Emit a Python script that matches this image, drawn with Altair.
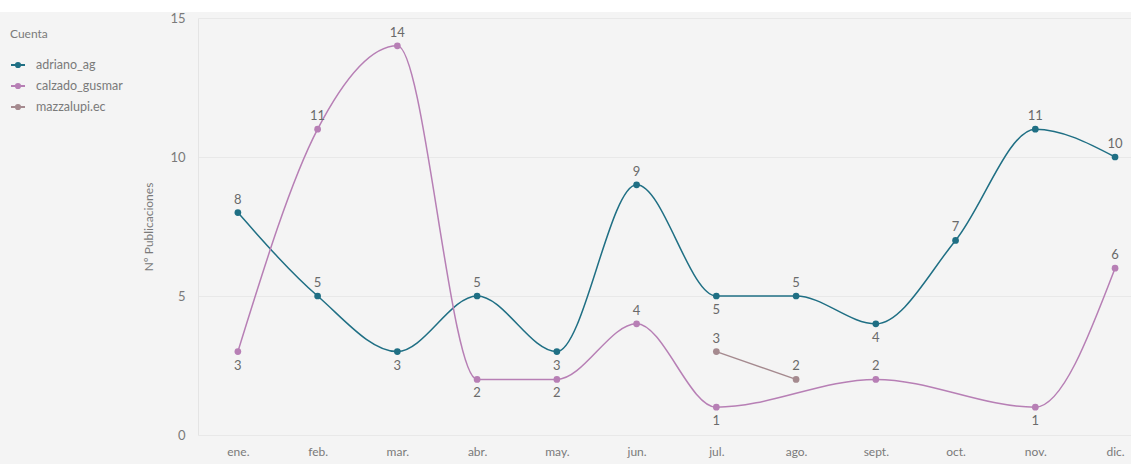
import altair as alt
import pandas as pd

months = ["ene.", "feb.", "mar.", "abr.", "may.", "jun.", "jul.", "ago.", "sept.", "oct.", "nov.", "dic."]
series_names = ["adriano_ag", "calzado_gusmar", "mazzalupi.ec"]
colors = ["#1f6f84", "#b77fb5", "#a58a8f"]

adriano_months = [0, 1, 2, 3, 4, 5, 6, 7, 8, 9, 10, 11]
adriano_values = [8, 5, 3, 5, 3, 9, 5, 5, 4, 7, 11, 10]
calzado_months = [0, 1, 2, 3, 4, 5, 6, 8, 10, 11]
calzado_values = [3, 11, 14, 2, 2, 4, 1, 2, 1, 6]
mazza_months = [6, 7]
mazza_values = [3, 2]

rows = []
for name, ms, vs in [
    ("adriano_ag", adriano_months, adriano_values),
    ("calzado_gusmar", calzado_months, calzado_values),
    ("mazzalupi.ec", mazza_months, mazza_values),
]:
    for m, v in zip(ms, vs):
        rows.append({"Cuenta": name, "m": m, "v": v})
df = pd.DataFrame(rows)

FONT = "Lato"
TXT = "#7a7a7a"
label_expr = "[" + ",".join(f"'{m}'" for m in months) + "][datum.value]"

x = alt.X("m:Q", scale=alt.Scale(domain=[-0.5, 11.2], nice=False, zero=False),
          axis=alt.Axis(values=list(range(12)), labelExpr=label_expr, title=None,
                        grid=False, domain=False, ticks=False, labelPadding=11,
                        labelFont=FONT, labelFontSize=12, labelColor=TXT))
y = alt.Y("v:Q", scale=alt.Scale(domain=[0, 15], nice=False),
          axis=alt.Axis(values=[0, 5, 10, 15], title="Nº Publicaciones", titleFont=FONT,
                        titleFontSize=12, titleFontWeight="normal", titleColor=TXT,
                        titlePadding=14, labelFont=FONT, labelFontSize=13, labelColor=TXT,
                        labelPadding=13, ticks=False, domain=True, domainColor="#e4e4e4",
                        gridColor="#e8e8e8", gridWidth=1))
legend_symbol = "M-1,0H1M0.3,0A0.3,0.3,0,1,1,-0.3,0A0.3,0.3,0,1,1,0.3,0"
color = alt.Color("Cuenta:N", scale=alt.Scale(domain=series_names, range=colors),
                  legend=alt.Legend(orient="none", legendX=-188, legendY=11, title="Cuenta",
                                    titleFont=FONT, titleFontSize=12, titleFontWeight="normal",
                                    titleColor=TXT, labelFont=FONT, labelFontSize=12.5,
                                    labelColor=TXT, symbolType=legend_symbol,
                                    symbolStrokeWidth=2, symbolSize=196, labelOffset=10,
                                    rowPadding=6, titlePadding=16))

base = alt.Chart(df)

top_strip = base.mark_rect(color="white", clip=False).encode(
    x=alt.value(-198), x2=alt.value(933), y=alt.value(-18), y2=alt.value(-6)
).transform_filter("datum.m == 0 && datum.Cuenta == 'adriano_ag'")

lines = base.mark_line(interpolate="monotone", strokeWidth=1.5).encode(x=x, y=y, color=color)
pts = base.mark_point(filled=True, size=45, opacity=1).encode(
    x=x, y=y, color=alt.Color("Cuenta:N", legend=None))

labeled = base.transform_window(
    prev="lag(v)", nxt="lead(v)", groupby=["Cuenta"], sort=[alt.SortField("m")]
).transform_calculate(
    low="datum.prev != null ? (datum.nxt != null && datum.v <= datum.prev && datum.v <= datum.nxt) : (datum.nxt != null && datum.v < datum.nxt)"
)
above = labeled.transform_filter("!datum.low").mark_text(
    dy=-13, font=FONT, fontSize=13, color="#6a6a6a").encode(x=x, y=y, text="v:Q")
below = labeled.transform_filter("datum.low").mark_text(
    dy=14, font=FONT, fontSize=13, color="#6a6a6a").encode(x=x, y=y, text="v:Q")

chart = alt.layer(top_strip, lines, pts, above, below).properties(
    width=933, height=417, background="#f4f4f4",
    padding={"left": 198, "top": 18, "right": 0, "bottom": 29},
    autosize=alt.AutoSizeParams(type="none"),
).configure_view(stroke=None)

chart.save("out.html", embed_options={"renderer": "svg", "actions": False})
